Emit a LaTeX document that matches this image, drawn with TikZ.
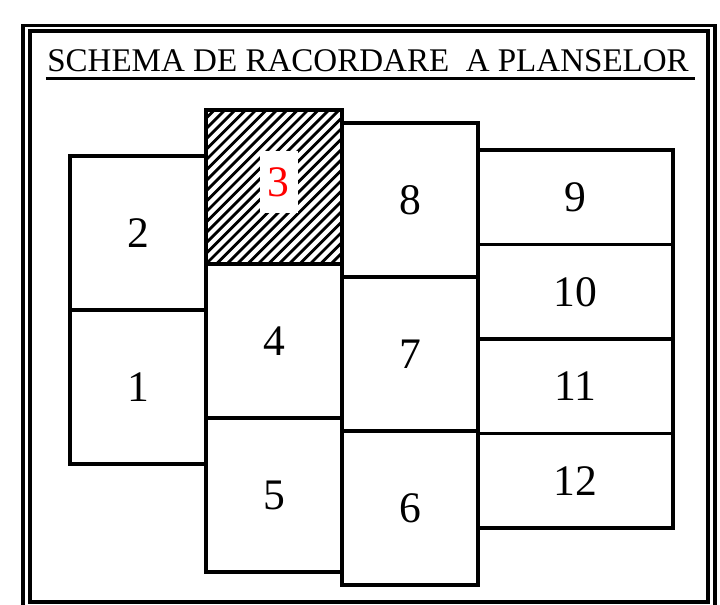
\documentclass[tikz,border=0pt]{standalone}
\usepackage{fontspec}
\setmainfont{Liberation Serif}
\usetikzlibrary{positioning}

\begin{document}
\begin{tikzpicture}[
    sheet/.style={draw, line width=2.8pt, inner sep=0pt, outer sep=0pt,
        minimum width=3.4cm, minimum height=3.85cm, font=\fontsize{31}{37}\selectfont},
    sheetwide/.style={sheet, minimum width=4.875cm, minimum height=2.3625cm},
    hatched/.style={path picture={
        \foreach \i in {-4.16,-3.9,...,3.6}
            \draw[line width=2pt] ([xshift=\i cm]path picture bounding box.south west) -- ++(4,4);
    }}
]
    \useasboundingbox (0,0) rectangle (18,15.125);

    % Double frame (lower edge runs off the sheet)
    \draw[line width=2.5pt] (0.58,0) |- (17.875,14.49) -- (17.875,0);
    \draw[line width=2.8pt] (0.76,0.075) rectangle (17.7,14.35);

    % Title
    \node[anchor=base west, inner sep=0pt, font=\fontsize{23.5}{28}\selectfont] (title) at (1.175,13.325) {SCHEMA DE RACORDARE~~A PLANSELOR};
    \draw[line width=2.3pt] ([xshift=-0.03cm, yshift=-0.16cm]title.base west) -- ([xshift=0.15cm, yshift=-0.16cm]title.base east);

    % First column
    \node[sheet, anchor=north west] (s2) at (1.75,11.225) {2};
    \node[sheet, below=0pt of s2] (s1) {1};

    % Second column, current sheet hatched
    \node[sheet, hatched, anchor=north west] (s3) at (5.15,12.375) {};
    \node[sheet, below=0pt of s3] (s4) {4};
    \node[sheet, below=0pt of s4] (s5) {5};
    \node[fill=white, text=red, inner xsep=0.21cm, inner ysep=0.41cm, font=\fontsize{31}{37}\selectfont] (l3) at ([shift={(0.12,0.12)}]s3.center) {3};

    % Third column
    \node[sheet, anchor=north west] (s8) at (8.55,12.05) {8};
    \node[sheet, below=0pt of s8] (s7) {7};
    \node[sheet, below=0pt of s7] (s6) {6};

    % Fourth column
    \node[sheetwide, anchor=north west] (s9) at (11.95,11.375) {9};
    \node[sheetwide, below=0pt of s9] (s10) {10};
    \node[sheetwide, below=0pt of s10] (s11) {11};
    \node[sheetwide, below=0pt of s11] (s12) {12};
\end{tikzpicture}
\end{document}
